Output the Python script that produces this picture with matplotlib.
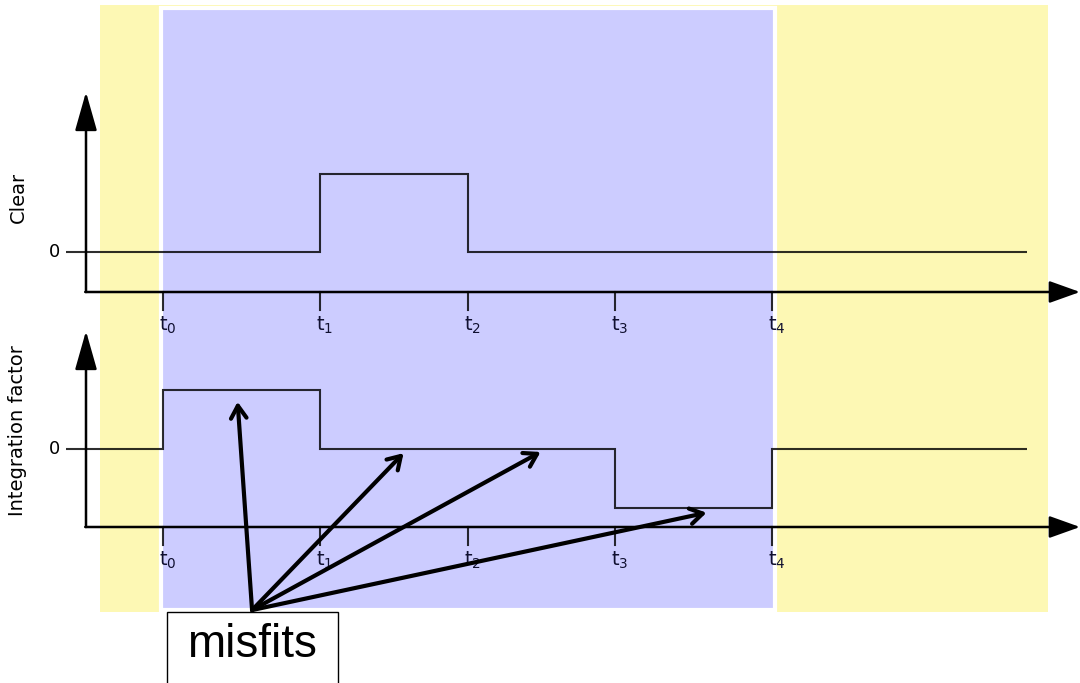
import numpy as np
import matplotlib
matplotlib.use('Agg')
import matplotlib.pyplot as plt
from matplotlib.patches import Rectangle

plt.rcParams['mathtext.fontset'] = 'dejavusans'

# data: time marks and the two step signals (one value per segment)
times = [0.0, 1.03, 2.0, 2.97, 4.0]
t_start, t_end = -0.637, 5.675
tick_labels = [r'$\mathrm{t}_{%d}$' % i for i in range(len(times))]
clear_vals = [0, 0, 1, 0, 0, 0]
integ_vals = [0, 1, 0, 0, -1, 0]
# misfit arrows: (time, level) on the lower signal
misfit_targets = [(0.49, 0.80), (1.58, -0.07), (2.48, -0.05), (3.57, -1.08)]
misfit_source = (0.585, -2.73)

W, H = 1080, 683
fig = plt.figure(figsize=(W / 100, H / 100), dpi=100)

# background in pixel coords
bg = fig.add_axes([0, 0, 1, 1])
bg.set_xlim(0, W)
bg.set_ylim(H, 0)
bg.axis('off')
bg.add_patch(Rectangle((100, 5), 948, 607, facecolor='#fdf8b4', edgecolor='none'))
bg.add_patch(Rectangle((161, 8), 614, 602, facecolor='#ccccff',
                       edgecolor='white', lw=3))
bg.add_patch(Rectangle((167, 612), 171, 80, facecolor='white',
                       edgecolor='black', lw=1, clip_on=False, zorder=5))
bg.text(252, 657, 'misfits', fontsize=33, family='Liberation Sans',
        ha='center', va='baseline', zorder=6)

# time axis scale: t0 at px 163, t4 at px 772
px0, pxs = 163, (772 - 163) / 4.0
xlim = (-px0 / pxs, (W - px0) / pxs)


def panel(zero_px, unit_px):
    ax = fig.add_axes([0, 0, 1, 1])
    ax.patch.set_alpha(0)
    ax.axis('off')
    ax.set_xlim(*xlim)
    ax.set_ylim(-(H - zero_px) / unit_px, zero_px / unit_px)
    return ax


def to_y(ax_zero, unit, px):
    return (ax_zero - px) / unit


line_kw = dict(color='black', alpha=0.82, lw=1.5)
edges = [t_start] + times + [t_end]
yax_x = (86 - px0) / pxs

panels = [
    (252, 78, clear_vals, 292, 92, 'Clear', 197),
    (449, 59, integ_vals, 527, 331, 'Integration factor', 431),
]
axes = []
for zero_px, unit, vals, axis_px, tip_px, name, lab_px in panels:
    ax = panel(zero_px, unit)
    axes.append(ax)
    ax.stairs(vals, edges, baseline=None, **line_kw)
    ax_y = to_y(zero_px, unit, axis_px)
    # axis arrows
    ax.annotate('', xy=(yax_x, to_y(zero_px, unit, tip_px)), xytext=(yax_x, ax_y),
                arrowprops=dict(arrowstyle='-|>,head_length=1.2,head_width=0.34',
                                color='black', lw=1.8, shrinkA=0, shrinkB=0,
                                mutation_scale=20))
    ax.annotate('', xy=(W / pxs - px0 / pxs, ax_y), xytext=(yax_x - 0.005, ax_y),
                arrowprops=dict(arrowstyle='-|>,head_length=0.95,head_width=0.34',
                                color='black', lw=1.8, shrinkA=0, shrinkB=0,
                                mutation_scale=20), annotation_clip=False)
    # time ticks
    tick_bot = to_y(zero_px, unit, axis_px + 18)
    for t, lab in zip(times, tick_labels):
        ax.plot([t, t], [ax_y, tick_bot], **line_kw)
        ax.text(t + 0.03, to_y(zero_px, unit, axis_px + 33), lab, fontsize=14,
                color='#101030', ha='center', va='center')
    # zero label
    ax.text((54 - px0) / pxs, 0, '0', fontsize=13, ha='center', va='center')
    ax.text((18 - px0) / pxs, to_y(zero_px, unit, lab_px), name, fontsize=14,
            rotation=90, ha='center', va='center')

ax2 = axes[1]
for tx, ty in misfit_targets:
    ax2.annotate('', xy=(tx, ty), xytext=misfit_source, annotation_clip=False,
                 arrowprops=dict(arrowstyle='->,head_length=0.45,head_width=0.28',
                                 color='black', lw=3, shrinkA=0, shrinkB=0,
                                 mutation_scale=20))

fig.savefig('out.png', dpi=100)
